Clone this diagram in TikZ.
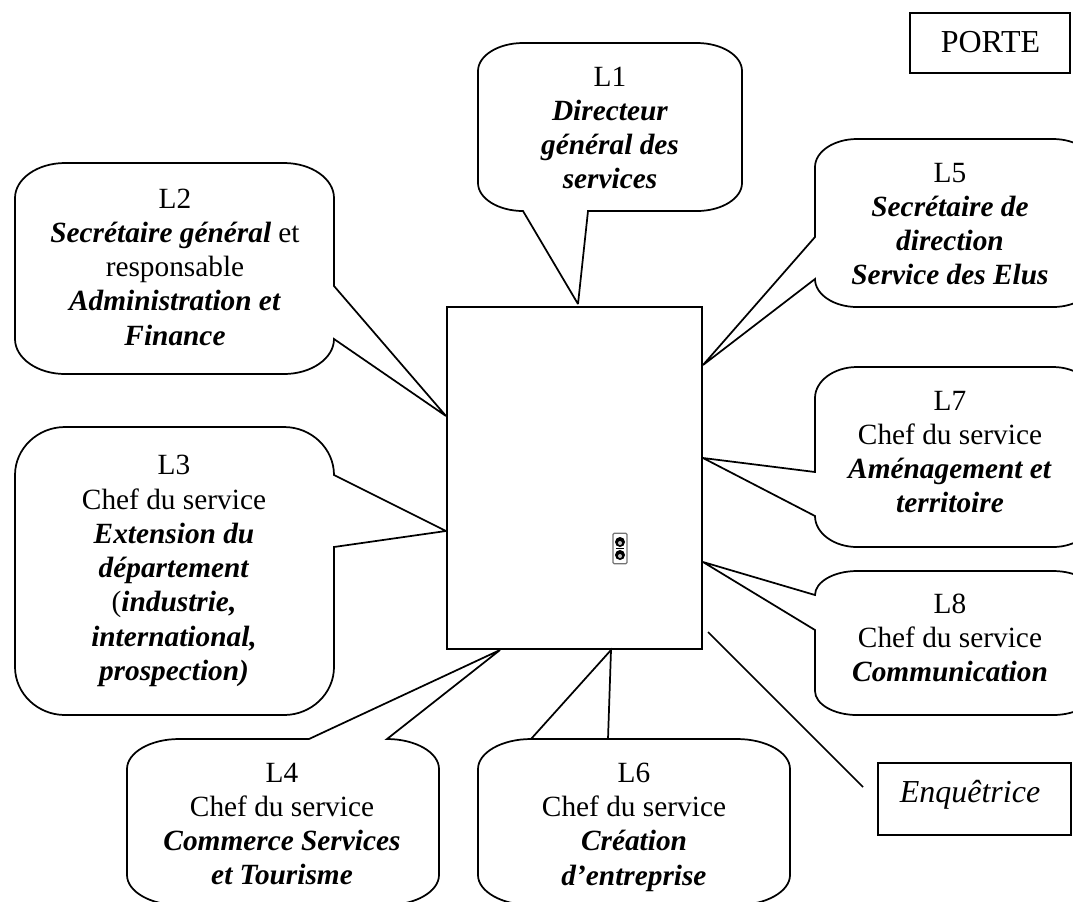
\documentclass[tikz,border=0pt]{standalone}
\usepackage{fontspec}
\setmainfont{Liberation Serif}
\newcommand{\rl}[1]{\textbf{\textit{#1}}}
\def\bubgeo#1#2#3#4#5#6{\def\bubL{#1}\def\bubT{#2}\def\bubR{#3}\def\bubB{#4}\def\bubX{#5}\def\bubY{#6}\bubpath}
\def\bubpath#1#2#3#4{%
  \draw[bubble] (\bubL+\bubX,\bubT) #1 -- (\bubR-\bubX,\bubT)
   .. controls (\bubR-.45*\bubX,\bubT) and (\bubR,\bubT+.45*\bubY) .. (\bubR,\bubT+\bubY) #2
   -- (\bubR,\bubB-\bubY)
   .. controls (\bubR,\bubB-.45*\bubY) and (\bubR-.45*\bubX,\bubB) .. (\bubR-\bubX,\bubB) #3
   -- (\bubL+\bubX,\bubB)
   .. controls (\bubL+.45*\bubX,\bubB) and (\bubL,\bubB-.45*\bubY) .. (\bubL,\bubB-\bubY) #4
   -- (\bubL,\bubT+\bubY)
   .. controls (\bubL,\bubT+.45*\bubY) and (\bubL+.45*\bubX,\bubT) .. (\bubL+\bubX,\bubT) -- cycle;}
\tikzset{
  bubble/.style={draw=black,line width=1.3pt,line join=miter,miter limit=3},
  plainbox/.style={draw=black,line width=1.3pt,inner sep=0pt},
  lbl/.style={align=center,inner sep=0pt,font=\fontsize{22}{25.7}\selectfont},
  biglbl/.style={inner sep=0pt,font=\fontsize{24}{28}\selectfont},
}
\begin{document}
\begin{tikzpicture}[x=0.75pt,y=-0.75pt]
\clip (0,0) rectangle (1073,901);
\fill[white] (0,0) rectangle (1073,901);
% central room
\node[plainbox,minimum width=191.25pt,minimum height=256.5pt] (salle) at (574.5,478) {};
% tips
\coordinate (t1) at (578,304);
\coordinate (t2) at (446,416);
\coordinate (t3) at (446,531);
\coordinate (t4) at (500,650);
\coordinate (t5) at (703,365);
\coordinate (t6) at (611,650);
\coordinate (t7) at (703,458);
\coordinate (t8) at (703,562);
% callouts
\bubgeo{478}{43}{742}{211}{45}{28}{}{}{-- (588,211) -- (t1) -- (523,211)}{}
\bubgeo{15}{163}{334}{374}{50}{35}{}{-- (334,286) -- (t2) -- (334,339)}{}{}
\bubgeo{15}{427}{334}{715}{50}{48}{}{-- (334,475) -- (t3) -- (334,547)}{}{}
\bubgeo{127}{739}{439}{905}{52}{30}{-- (309,739) -- (t4) -- (387,739)}{}{}{}
\bubgeo{815}{139}{1095}{307}{42}{28}{}{}{}{-- (815,279) -- (t5) -- (815,237)}
\bubgeo{478}{739}{790}{905}{53}{30}{-- (608,739) -- (t6) -- (531,739)}{}{}{}
\bubgeo{815}{367}{1095}{547}{42}{31}{}{}{}{-- (815,516) -- (t7) -- (815,472)}
\bubgeo{815}{571}{1095}{715}{42}{24}{}{}{}{-- (815,630) -- (t8) -- (815,595)}
% texts
\node[lbl] (l1) at (610,128) {L1\\\rl{Directeur}\\\rl{général des}\\\rl{services}};
\node[lbl] (l2) at (175,267) {L2\\\rl{Secrétaire général} et\\responsable\\\rl{Administration et}\\\rl{Finance}};
\node[lbl] (l3) at (174,571) {L3\\Chef du service\\\rl{Extension du}\\\rl{département}\\(\rl{industrie,}\\\rl{international,}\\\rl{prospection)}};
\node[lbl] (l4) at (282,824) {L4\\Chef du service\\\rl{Commerce Services}\\\rl{et Tourisme}};
\node[lbl] (l5) at (950,224) {L5\\\rl{Secrétaire de}\\\rl{direction}\\\rl{Service des Elus}};
\node[lbl] (l6) at (634,827) {L6\\Chef du service\\\rl{Création}\\\rl{d’entreprise}};
\node[lbl] (l7) at (950,452) {L7\\Chef du service\\\rl{Aménagement et}\\\rl{territoire}};
\node[lbl] (l8) at (950,638) {L8\\Chef du service\\\rl{Communication}};
% boxes
\node[plainbox,minimum width=120pt,minimum height=45pt] (porte) at (990,43) {};
\node[biglbl] (portetxt) at (990.5,42) {PORTE};
\node[plainbox,minimum width=144.75pt,minimum height=54pt] (enqbox) at (974.5,799) {};
\node[biglbl] (enq) at (970,795) {\textit{Enquêtrice}};
% line to interviewer
\coordinate (e1) at (708,632);
\coordinate (e2) at (863,787);
\draw[line width=1.3pt] (e1) -- (e2);
% wall socket
\node[draw=black!55,line width=0.9pt,rounded corners=1pt,minimum width=10.5pt,minimum height=23pt,inner sep=0pt] (prise) at (620,548.5) {};
\foreach \yy in {542,555}{
  \fill[black] (620,\yy) circle[radius=5];
  \fill[white!75!black] (620,\yy+1) circle[radius=2];
}
\draw[black,line width=0.8pt] (616,548.5) -- (624,548.5);
\end{tikzpicture}
\end{document}
